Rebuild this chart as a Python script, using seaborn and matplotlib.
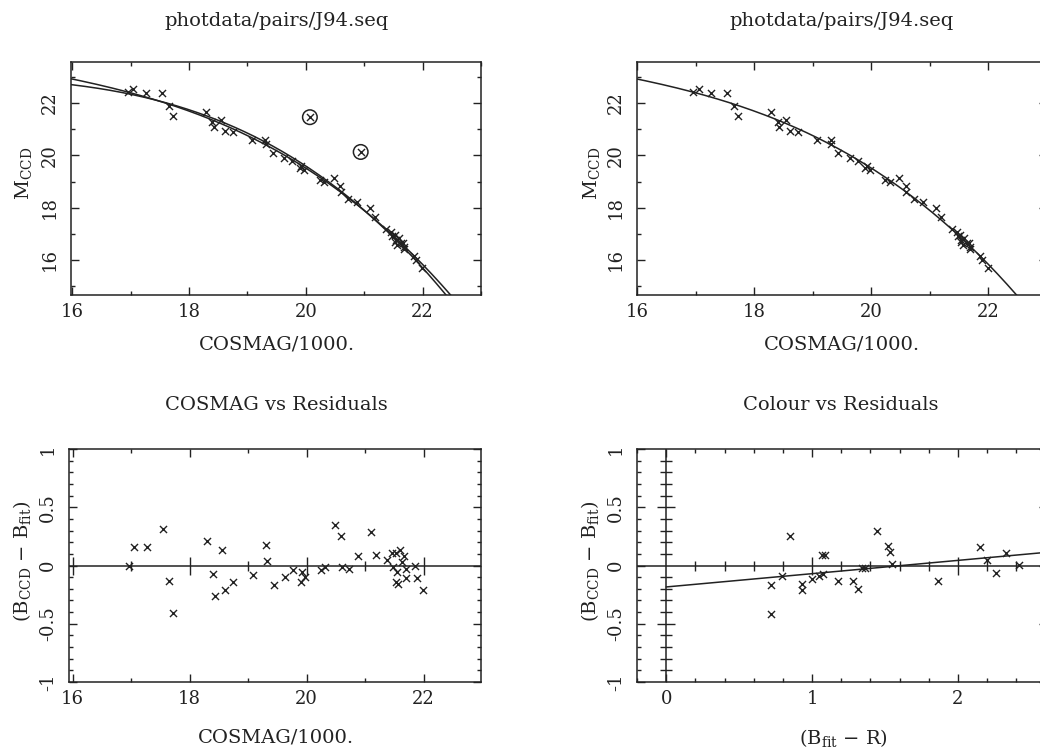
import numpy as np
import matplotlib
matplotlib.use("Agg")
import matplotlib.pyplot as plt
from matplotlib.ticker import MultipleLocator, FuncFormatter
import seaborn as sns

# Sequence stars: COSMAG/1000 and CCD magnitude
cosmag = [16.96, 17.05, 17.27, 17.54, 17.65, 17.72, 18.29, 18.40, 18.43, 18.55,
          18.61, 18.75, 19.08, 19.31, 19.32, 19.44, 19.63, 19.77, 19.90, 19.92,
          19.97, 20.24, 20.32, 20.48, 20.59, 20.60, 20.73, 20.88, 21.10, 21.19,
          21.37, 21.46, 21.48, 21.52, 21.53, 21.54, 21.57, 21.59, 21.63, 21.66,
          21.69, 21.69, 21.86, 21.89, 21.99]
m_ccd = [22.42, 22.54, 22.38, 22.38, 21.87, 21.51, 21.66, 21.26, 21.07, 21.36,
         20.94, 20.88, 20.60, 20.57, 20.43, 20.08, 19.88, 19.78, 19.51, 19.61,
         19.45, 19.04, 19.00, 19.13, 18.83, 18.58, 18.33, 18.22, 18.00, 17.63,
         17.20, 17.08, 16.92, 16.96, 16.69, 16.75, 16.59, 16.84, 16.66, 16.65,
         16.48, 16.40, 16.17, 16.00, 15.70]
# Residuals B_CCD - B_fit of the final fit
resid = [0.00, 0.16, 0.16, 0.31, -0.13, -0.41, 0.21, -0.07, -0.26, 0.13,
         -0.21, -0.14, -0.08, 0.18, 0.04, -0.17, -0.10, -0.04, -0.14, -0.06,
         -0.10, -0.04, -0.01, 0.35, 0.25, -0.01, -0.03, 0.08, 0.29, 0.09,
         0.05, 0.11, -0.01, 0.11, -0.14, -0.06, -0.16, 0.13, 0.03, 0.08,
         -0.03, -0.11, 0.00, -0.11, -0.21]

# Stars rejected from the final fit
cosmag_rej = [20.07, 20.94]
m_ccd_rej = [21.46, 20.13]

# Cubic calibration fits in (COSMAG/1000 - 16), highest power first
fit_first = [-0.011391, -0.081074, -0.27030, 22.70]   # all stars
fit_final = [-0.011391, -0.051126, -0.46509, 22.92]   # rejected stars removed
fit_origin = 16.0

# Stars with a measured colour
colour = [0.717, 0.717, 0.795, 0.848, 0.928, 0.928, 0.997, 1.049, 1.077, 1.065,
          1.088, 1.180, 1.278, 1.317, 1.340, 1.360, 1.448, 1.517, 1.535, 1.551,
          1.863, 2.149, 2.199, 2.261, 2.332, 2.421]
colour_resid = [-0.165, -0.414, -0.086, 0.257, -0.157, -0.214, -0.114, -0.094, -0.071, 0.086,
                0.091, -0.134, -0.134, -0.206, -0.023, -0.023, 0.294, 0.165, 0.114, 0.014,
                -0.134, 0.163, 0.049, -0.066, 0.109, 0.006]

INK = "#222222"
FS = 14
FS_TICK = 13

sns.set_theme(style="ticks")
plt.rcParams.update({
    "font.family": ["DejaVu Serif"],
    "mathtext.fontset": "dejavuserif",
    "axes.edgecolor": INK,
    "axes.linewidth": 1.1,
    "text.color": INK,
    "xtick.color": INK,
    "ytick.color": INK,
    "axes.labelcolor": INK,
})

W, H = 1040, 752
fig = plt.figure(figsize=(W / 100, H / 100), dpi=100)


def px_axes(left, top, width, height):
    return fig.add_axes([left / W, 1 - (top + height) / H, width / W, height / H])


def fmt(v, _pos):
    return "%g" % v if abs(v) > 1e-9 else "0"


def style_axes(ax, xmaj, xmin, ymaj, ymin):
    ax.xaxis.set_major_locator(MultipleLocator(xmaj))
    ax.xaxis.set_minor_locator(MultipleLocator(xmin))
    ax.yaxis.set_major_locator(MultipleLocator(ymaj))
    ax.yaxis.set_minor_locator(MultipleLocator(ymin))
    ax.xaxis.set_major_formatter(FuncFormatter(fmt))
    ax.yaxis.set_major_formatter(FuncFormatter(fmt))
    ax.tick_params(which="both", direction="in", top=True, right=True,
                   width=1.0, color=INK, labelsize=FS_TICK)
    ax.tick_params(which="major", length=5.5)
    ax.tick_params(which="minor", length=3)
    ax.tick_params(axis="x", pad=12)
    ax.tick_params(axis="y", pad=15, labelrotation=90)
    ax.set_xlabel("")
    ax.set_ylabel("")
    for lab in ax.get_yticklabels():
        lab.set_va("center")
        lab.set_ha("center")
    for lab in ax.get_xticklabels():
        lab.set_va("center")
    for s in ax.spines.values():
        s.set_visible(True)


def text_px(x, y, s, rot=0):
    fig.text(x / W, 1 - y / H, s, ha="center", va="center", rotation=rot,
             fontsize=FS, color=INK)


xmark = dict(marker="x", s=26, linewidth=1.0, color=INK, edgecolor=INK)

xc = np.linspace(15.5, 23.5, 400)
curve_first = np.polyval(fit_first, xc - fit_origin)
curve_final = np.polyval(fit_final, xc - fit_origin)

mlabel = r"M$_{\mathregular{CCD}}$"
rlabel = r"(B$_{\mathregular{CCD}}$ − B$_{\mathregular{fit}}$)"

# ---- top left: calibration, both fits, rejected stars circled
ax1 = px_axes(71, 62, 410, 233)
sns.lineplot(x=xc, y=curve_first, ax=ax1, color=INK, lw=1.1, sort=False)
sns.lineplot(x=xc, y=curve_final, ax=ax1, color=INK, lw=1.1, sort=False)
sns.scatterplot(x=cosmag, y=m_ccd, ax=ax1, **xmark)
sns.scatterplot(x=cosmag_rej, y=m_ccd_rej, ax=ax1, **xmark)
ax1.scatter(cosmag_rej, m_ccd_rej, marker="o", s=110, facecolors="none",
            edgecolors=INK, linewidths=1.1)
ax1.set_xlim(15.98, 23.0)
ax1.set_ylim(14.66, 23.57)
style_axes(ax1, 2, 1, 2, 1)

# ---- top right: final fit
ax2 = px_axes(637, 62, 410, 233)
sns.lineplot(x=xc, y=curve_final, ax=ax2, color=INK, lw=1.1, sort=False)
sns.scatterplot(x=cosmag, y=m_ccd, ax=ax2, **xmark)
ax2.set_xlim(16.0, 23.0)
ax2.set_ylim(14.66, 23.57)
style_axes(ax2, 2, 1, 2, 1)

# ---- bottom left: residuals against COSMAG
ax3 = px_axes(69, 449, 412, 233)
sns.scatterplot(x=cosmag, y=resid, ax=ax3, **xmark)
ax3.set_xlim(15.94, 22.98)
ax3.set_ylim(-1, 1)
style_axes(ax3, 2, 1, 0.5, 0.1)

# ---- bottom right: residuals against colour with linear trend
ax4 = px_axes(637, 449, 410, 233)
trend = np.polyfit(colour, colour_resid, 1)
xl = np.linspace(0, 3, 50)
sns.lineplot(x=xl, y=np.polyval(trend, xl), ax=ax4, color=INK, lw=1.1, sort=False)
sns.scatterplot(x=colour, y=colour_resid, ax=ax4, **xmark)
ax4.set_xlim(-0.2, 2.61)
ax4.set_ylim(-1, 1)
style_axes(ax4, 1, 0.2, 0.5, 0.1)


def zero_axis_ticks(ax, axis):
    """Axis line through zero with tick marks crossing it."""
    if axis == "x":
        ax.axhline(0, color=INK, lw=1.1, zorder=1)
        lo, hi = ax.get_xlim()
        mj = [v for v in ax.xaxis.get_majorticklocs() if lo + 1e-6 < v < hi - 1e-6 and abs(v) > 1e-6]
        mn = [v for v in ax.xaxis.get_minorticklocs() if lo + 1e-6 < v < hi - 1e-6 and abs(v) > 1e-6]
        ax.plot(mn, np.zeros(len(mn)), ls="none", marker="|", ms=6.5, mew=1.0, color=INK)
        ax.plot(mj, np.zeros(len(mj)), ls="none", marker="|", ms=13, mew=1.0, color=INK)
    else:
        ax.axvline(0, color=INK, lw=1.1, zorder=1)
        lo, hi = ax.get_ylim()
        mj = [v for v in ax.yaxis.get_majorticklocs() if lo + 1e-6 < v < hi - 1e-6 and abs(v) > 1e-6]
        mn = [v for v in ax.yaxis.get_minorticklocs() if lo + 1e-6 < v < hi - 1e-6 and abs(v) > 1e-6]
        ax.plot(np.zeros(len(mn)), mn, ls="none", marker="_", ms=8, mew=1.0, color=INK)
        ax.plot(np.zeros(len(mj)), mj, ls="none", marker="_", ms=13, mew=1.0, color=INK)


zero_axis_ticks(ax3, "x")
zero_axis_ticks(ax4, "x")
zero_axis_ticks(ax4, "y")

# titles and axis labels
text_px(277, 21, "photdata/pairs/J94.seq")
text_px(842, 21, "photdata/pairs/J94.seq")
text_px(277, 345, "COSMAG/1000.")
text_px(842, 345, "COSMAG/1000.")
text_px(23, 173, mlabel, rot=90)
text_px(591, 173, mlabel, rot=90)
text_px(276, 405, "COSMAG vs Residuals")
text_px(841, 405, "Colour vs Residuals")
text_px(276, 738, "COSMAG/1000.")
text_px(843, 738, r"(B$_{\mathregular{fit}}$ − R)")
text_px(22, 561, rlabel, rot=90)
text_px(590, 561, rlabel, rot=90)

fig.savefig("out.png", dpi=100, facecolor="white")
